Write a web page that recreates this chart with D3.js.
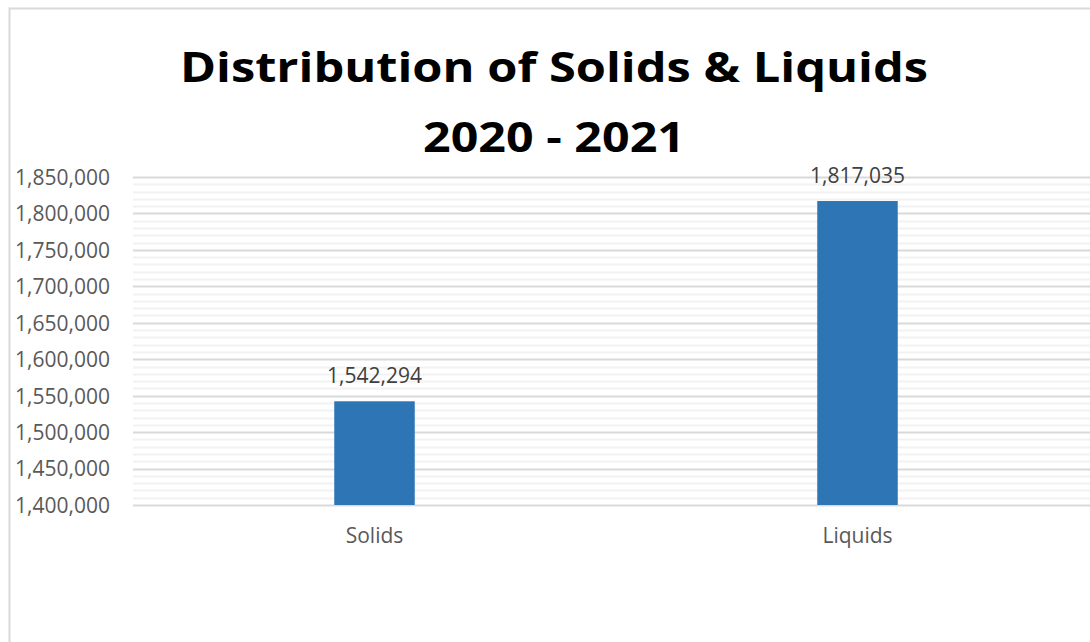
<!DOCTYPE html>
<html>
<head>
<meta charset="utf-8">
<script src="https://cdn.jsdelivr.net/npm/d3@7"></script>
<style>
  html, body { margin: 0; padding: 0; background: #fff; }
  svg { display: block; }
</style>
</head>
<body>
<svg id="chart" width="1090" height="642"></svg>
<script>
// Chart data
const categories = ["Solids", "Liquids"];
const values = [1542294, 1817035];
const titleLines = ["Distribution of Solids & Liquids", "2020 - 2021"];
const yTicks = [1400000, 1450000, 1500000, 1550000, 1600000, 1650000, 1700000, 1750000, 1800000, 1850000];
const yMinorStep = 10000;

const svg = d3.select("#chart");
const W = 1090, H = 642;
const fontFamily = "'Open Sans', 'Segoe UI', sans-serif";

// Chart area frame
svg.append("rect")
  .attr("x", 9.5).attr("y", 8.5)
  .attr("width", W + 20).attr("height", H + 20)
  .attr("fill", "#fff")
  .attr("stroke", "#d9d9d9")
  .attr("stroke-width", 2);

const plot = { left: 133, right: 1099, top: 177, bottom: 505 };

const y = d3.scaleLinear()
  .domain([1400000, 1850000])
  .range([plot.bottom, plot.top]);

const x = d3.scaleBand()
  .domain(categories)
  .range([plot.left, plot.right])
  .paddingInner(5 / 6)
  .paddingOuter(5 / 12);

// Minor gridlines
const minorTicks = d3.range(1400000, 1850000 + 1, yMinorStep)
  .filter(v => !yTicks.includes(v));
svg.append("g")
  .selectAll("line")
  .data(minorTicks)
  .join("line")
  .attr("x1", plot.left).attr("x2", W)
  .attr("y1", d => Math.round(y(d)) + 0.5)
  .attr("y2", d => Math.round(y(d)) + 0.5)
  .attr("stroke", "#f2f2f2")
  .attr("stroke-width", 2);

// Major gridlines
svg.append("g")
  .selectAll("line")
  .data(yTicks)
  .join("line")
  .attr("x1", plot.left).attr("x2", W)
  .attr("y1", d => Math.round(y(d)) + 0.5)
  .attr("y2", d => Math.round(y(d)) + 0.5)
  .attr("stroke", "#d9d9d9")
  .attr("stroke-width", 2);

// Y axis labels
const fmt = d3.format(",");
const yAxis = d3.axisLeft(y)
  .tickValues(yTicks)
  .tickFormat(fmt)
  .tickSize(0)
  .tickPadding(0);
const gy = svg.append("g")
  .attr("transform", "translate(110,0)")
  .call(yAxis);
gy.select(".domain").remove();
gy.selectAll("text")
  .attr("font-family", fontFamily)
  .attr("font-size", 21)
  .attr("fill", "#595959")
  .attr("dy", "0.35em");

// Bars
svg.append("g")
  .selectAll("rect")
  .data(categories.map((c, i) => ({ c, v: values[i] })))
  .join("rect")
  .attr("x", d => x(d.c))
  .attr("width", x.bandwidth())
  .attr("y", d => y(d.v))
  .attr("height", d => y(1400000) - y(d.v))
  .attr("fill", "#2e75b6");

// Value labels
svg.append("g")
  .selectAll("text")
  .data(categories.map((c, i) => ({ c, v: values[i] })))
  .join("text")
  .attr("x", d => x(d.c) + x.bandwidth() / 2)
  .attr("y", d => y(d.v) - 18)
  .attr("text-anchor", "middle")
  .attr("font-family", fontFamily)
  .attr("font-size", 21)
  .attr("fill", "#404040")
  .text(d => fmt(d.v));

// Category axis
const xAxis = d3.axisBottom(x).tickSize(0).tickPadding(0);
const gx = svg.append("g")
  .attr("transform", `translate(0,${plot.bottom})`)
  .call(xAxis);
gx.select(".domain").remove();
gx.selectAll("text")
  .attr("font-family", fontFamily)
  .attr("font-size", 21)
  .attr("fill", "#595959")
  .attr("dy", "0")
  .attr("y", 38);

// Title
const title = svg.append("g");
const titleBase = [82, 152];
const titleWidths = [748, 262];
titleLines.forEach((t, i) => {
  const txt = title.append("text")
    .attr("x", 554)
    .attr("y", titleBase[i])
    .attr("text-anchor", "middle")
    .attr("font-family", fontFamily)
    .attr("font-weight", "bold")
    .attr("font-size", 41)
    .attr("fill", "#000")
    .text(t);
  const len = txt.node().getComputedTextLength();
  if (Math.abs(len - titleWidths[i]) > 4) {
    txt.attr("textLength", titleWidths[i]).attr("lengthAdjust", "spacingAndGlyphs");
  }
});
</script>
</body>
</html>
